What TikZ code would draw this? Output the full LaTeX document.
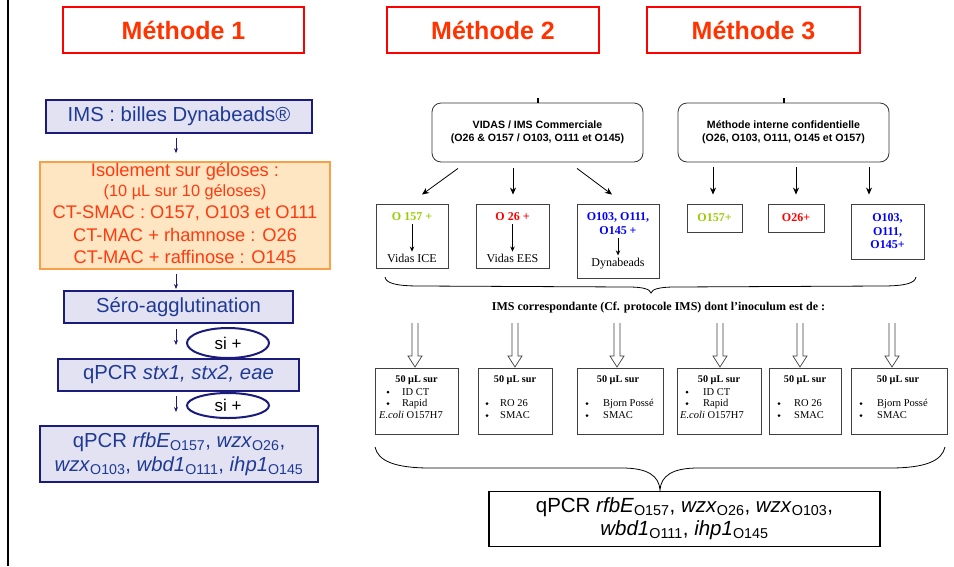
\documentclass[tikz,border=0pt]{standalone}
\usepackage{fontspec}
\setmainfont{Liberation Serif}
\newfontfamily\arialf{Liberation Sans}
\usetikzlibrary{arrows.meta,calc,shapes.geometric}
\definecolor{titred}{HTML}{FF0000}
\definecolor{tittext}{HTML}{FF3300}
\definecolor{navy}{HTML}{1B1B7C}
\definecolor{navyfill}{HTML}{E2E2F2}
\definecolor{navytext}{HTML}{1F3A93}
\definecolor{isofill}{HTML}{FFE6C3}
\definecolor{isodraw}{HTML}{F7A047}
\definecolor{isotext}{HTML}{FF3A0F}
\definecolor{grn}{HTML}{99CC00}
\definecolor{rd}{HTML}{FF0000}
\definecolor{bl}{HTML}{0000FF}
\begin{document}
\begin{tikzpicture}[x=1pt,y=-1pt,
  titlebox/.style={draw=titred, line width=2.5pt, minimum width=212pt, minimum height=46pt, inner sep=0pt, text=tittext, font=\arialf\bfseries\fontsize{25}{30}\selectfont},
  navybox/.style={draw=navy, fill=navyfill, line width=2pt, inner sep=0pt, text=navytext, font=\arialf\fontsize{20.3}{24}\selectfont},
  siell/.style={ellipse, draw=navy, line width=2pt, fill=white, inner sep=0pt, minimum width=82pt, font=\arialf\fontsize{17}{20}\selectfont},
  isoline/.style={inner sep=0pt, text=isotext, font=\arialf\fontsize{18.3}{22}\selectfont},
  smallarr/.style={draw=navy, line width=0.8pt, -{Stealth[length=5pt,width=4pt]}},
  rbox/.style={draw=black!80, rounded corners=9pt, line width=0.8pt, minimum width=211pt, minimum height=59pt, inner sep=0pt, align=center, font=\arialf\bfseries\fontsize{10.6}{13}\selectfont},
  gbox/.style={draw=black!75, line width=0.9pt, inner sep=0pt},
  blk/.style={line width=0.8pt, -{Stealth[length=7pt,width=6pt]}},
  iblk/.style={line width=0.8pt, -{Stealth[length=5pt,width=4.5pt]}},
  serb/.style={inner sep=0pt, font=\bfseries\fontsize{12}{14}\selectfont},
  ser/.style={inner sep=0pt, font=\fontsize{12}{14}\selectfont},
  sm/.style={inner sep=0pt, font=\fontsize{10.5}{12}\selectfont},
  smb/.style={inner sep=0pt, font=\bfseries\fontsize{10.2}{12}\selectfont},
  bul/.style={circle, fill=black, inner sep=0pt, minimum size=3pt},
  brace/.style={line width=0.8pt},
  hollow/.pic={\draw[line width=0.7pt, draw=black!75] (-3,0) -- (-3,33) -- (-7,33) -- (0,44) -- (7,33) -- (3,33) -- (3,0);}
]
\useasboundingbox (0,0) rectangle (954,566);
\fill[white] (0,0) rectangle (954,566);
\draw[line width=2pt] (8,0) -- (8,566);

% titles
\node[titlebox, minimum width=241pt] (m1) at (183.5,30) {Méthode 1};
\node[titlebox] (m2) at (493,30) {Méthode 2};
\node[titlebox, minimum width=213pt] (m3) at (753.5,30) {Méthode 3};

% ---------- Method 1 ----------
\node[navybox, minimum width=266pt, minimum height=33pt] (ims) at (179,116.5) {IMS : billes Dynabeads®};
\node[draw=isodraw, fill=isofill, line width=1.6pt, minimum width=290pt, minimum height=107pt, inner sep=0pt] (iso) at (185,215.5) {};
\node[isoline] (iso1) at (185,172) {Isolement sur géloses :};
\node[isoline, font=\arialf\fontsize{16.3}{20}\selectfont] (iso2) at (185,192) {(10 µL sur 10 géloses)};
\node[isoline] (iso3) at (185,213) {CT-SMAC : O157, O103 et O111};
\node[isoline] (iso4) at (185,235) {CT-MAC + rhamnose : O26};
\node[isoline] (iso5) at (185,257) {CT-MAC + raffinose : O145};
\node[navybox, minimum width=229pt, minimum height=32pt] (sero) at (178.5,307) {Séro-agglutination};
\node[navybox, minimum width=241pt, minimum height=32pt] (qstx) at (178.5,375) {qPCR \textit{stx1, stx2, eae}};
\node[navybox, minimum width=278pt, minimum height=56pt, align=center, font=\arialf\fontsize{20.3}{24}\selectfont] (qfin) at (179,454)
  {qPCR \textit{rfbE}\textsubscript{O157}, \textit{wzx}\textsubscript{O26},\\
   \textit{wzx}\textsubscript{O103}, \textit{wbd1}\textsubscript{O111}, \textit{ihp1}\textsubscript{O145}};
\node[siell, minimum height=30pt] (si1) at (228,343) {si +};
\node[siell, minimum height=25pt] (si2) at (228,405.5) {si +};

\draw[smallarr] ($(ims.south)+(-3,4)$) -- ($(iso.north)+(-9,-8)$);
\draw[smallarr] ($(iso.south)+(-9,4)$) -- ($(sero.north)+(-2.5,-1)$);
\draw[smallarr] ($(sero.south)+(-2.5,5)$) -- ($(qstx.north)+(-2.5,-13)$);
\draw[smallarr] ($(qstx.south)+(-2.5,4)$) -- ($(qfin.north)+(-3,-13)$);

% ---------- Method 2 ----------
\node[rbox] (vid) at (537.5,132.5) {VIDAS / IMS Commerciale\\(O26 \& O157 / O103, O111 et O145)};
\draw[line width=2pt] (vid.north) -- ++(0,-5);

\node[gbox, minimum width=72pt, minimum height=64pt] (b1) at (412,236) {};
\node[serb, text=grn] (b1t) at (412,217) {O 157 +};
\node[ser] (b1v) at (412,258) {Vidas ICE};
\draw[iblk] (b1t.south) ++(0,3) -- ($(b1v.north)+(0,-2)$);

\node[gbox, minimum width=73pt, minimum height=64pt] (b2) at (512.5,236) {};
\node[serb, text=rd] (b2t) at (512.5,217) {O 26 +};
\node[ser] (b2v) at (512.5,258) {Vidas EES};
\draw[iblk] (b2t.south) ++(0,3) -- ($(b2v.north)+(0,-2)$);

\node[gbox, minimum width=82pt, minimum height=74pt] (b3) at (618,241) {};
\node[serb, text=bl, align=center, font=\bfseries\fontsize{12}{13.5}\selectfont] (b3t) at (618,223.5) {O103, O111,\\O145 +};
\node[ser] (b3v) at (618,264) {Dynabeads};
\draw[iblk] (b3t.south) ++(0,3) -- ($(b3v.north)+(0,-3)$);

\draw[blk] ($(vid.south)+(-79.5,6)$) -- ($(b1.north)+(10,-9)$);
\draw[blk] ($(vid.south)+(-24.5,6)$) -- ($(b2.north)+(0.5,-9)$);
\draw[blk] ($(vid.south)+(39.5,6)$) -- ($(b3.north)+(-6,-9)$);

% ---------- Method 3 ----------
\node[rbox] (int) at (783.5,132.5) {Méthode interne confidentielle\\(O26, O103, O111, O145 et O157)};
\draw[line width=2pt] (int.north) -- ++(0,-5);

\node[gbox, minimum width=55pt, minimum height=28pt, serb, text=grn] (c1) at (714.5,218) {O157+};
\node[gbox, minimum width=56pt, minimum height=28pt, serb, text=rd] (c2) at (796,218) {O26+};
\node[gbox, minimum width=73pt, minimum height=55pt, serb, text=bl, align=center, font=\bfseries\fontsize{12}{13.5}\selectfont] (c3) at (887.5,231.5) {O103,\\O111,\\O145+};

\draw[blk] ($(int.south)+(-70.5,5)$) -- ($(c1.north)+(-1.5,-9)$);
\draw[blk] ($(int.south)+(12.5,5)$) -- ($(c2.north)+(0,-9)$);
\draw[blk] ($(int.south)+(85.5,5)$) -- ($(c3.north)+(-18.5,-9)$);

% brace 1
\draw[brace] (385,277) .. controls (386,283) and (395,286) .. (420,286) -- (628,287)
  .. controls (643,287) and (650,289) .. (651,293)
  .. controls (652,289) and (660,287) .. (675,287) -- (882,286)
  .. controls (906,286) and (915,283) .. (916,277);
\node[serb] (ims2) at (658.5,308) {IMS correspondante (Cf. protocole IMS) dont l’inoculum est de :};

% bottom boxes
\node[gbox, minimum width=83pt, minimum height=66pt] (d1) at (416.5,401) {};
\node[gbox, minimum width=74pt, minimum height=66pt] (d2) at (515,401) {};
\node[gbox, minimum width=86pt, minimum height=66pt] (d3) at (620,401) {};
\node[gbox, minimum width=84pt, minimum height=66pt] (d4) at (719,401) {};
\node[gbox, minimum width=72pt, minimum height=66pt] (d5) at (805,401) {};
\node[gbox, minimum width=96pt, minimum height=66pt] (d6) at (899,401) {};

\pic at (415,323) {hollow};
\pic at (515,323) {hollow};
\pic at (617,323) {hollow};
\pic at (720,323) {hollow};
\pic at (800,323) {hollow};
\pic at (892,323) {hollow};

% box 1
\node[smb] (d1h) at (416.5,380) {50 µL sur};
\node[bul] (d1b1) at (388,392) {};
\node[sm, anchor=west] (d1a) at (402,392) {ID CT};
\node[bul] (d1b2) at (388,403.5) {};
\node[sm, anchor=west] (d1c) at (402,403.5) {Rapid};
\node[sm, anchor=west] (d1e) at (379,415) {\textit{E.coli} O157H7};
% box 2
\node[smb] (d2h) at (515,380) {50 µL sur};
\node[bul] (d2b1) at (487,403.5) {};
\node[sm, anchor=west] (d2a) at (500,403.5) {RO 26};
\node[bul] (d2b2) at (487,415.5) {};
\node[sm, anchor=west] (d2c) at (500,415.5) {SMAC};
% box 3
\node[smb] (d3h) at (618,380) {50 µL sur};
\node[bul] (d3b1) at (587,403.5) {};
\node[sm, anchor=west] (d3a) at (603,403.5) {Bjorn Possé};
\node[bul] (d3b2) at (587,415.5) {};
\node[sm, anchor=west] (d3c) at (603,415.5) {SMAC};
% box 4
\node[smb] (d4h) at (719,380) {50 µL sur};
\node[bul] (d4b1) at (687,392) {};
\node[sm, anchor=west] (d4a) at (703,392) {ID CT};
\node[bul] (d4b2) at (687,403.5) {};
\node[sm, anchor=west] (d4c) at (703,403.5) {Rapid};
\node[sm, anchor=west] (d4e) at (680,415) {\textit{E.coli} O157H7};
% box 5
\node[smb] (d5h) at (805,380) {50 µL sur};
\node[bul] (d5b1) at (779,403.5) {};
\node[sm, anchor=west] (d5a) at (794,403.5) {RO 26};
\node[bul] (d5b2) at (779,415.5) {};
\node[sm, anchor=west] (d5c) at (794,415.5) {SMAC};
% box 6
\node[smb] (d6h) at (898,380) {50 µL sur};
\node[bul] (d6b1) at (861,403.5) {};
\node[sm, anchor=west] (d6a) at (877,403.5) {Bjorn Possé};
\node[bul] (d6b2) at (861,415.5) {};
\node[sm, anchor=west] (d6c) at (877,415.5) {SMAC};

% brace 2
\draw[brace] (375,447) .. controls (378,461) and (395,468) .. (430,468) -- (622,468)
  .. controls (648,468) and (659,476) .. (660,490)
  .. controls (661,476) and (672,468) .. (698,468) -- (890,468)
  .. controls (925,468) and (942,461) .. (945,447);

\node[draw=black, line width=1.6pt, minimum width=391pt, minimum height=55pt, inner sep=0pt, align=center, font=\arialf\fontsize{20.5}{23}\selectfont] (qend) at (684.5,519)
  {qPCR \textit{rfbE}\textsubscript{O157}, \textit{wzx}\textsubscript{O26}, \textit{wzx}\textsubscript{O103},\\
   \textit{wbd1}\textsubscript{O111}, \textit{ihp1}\textsubscript{O145}};
\end{tikzpicture}
\end{document}
